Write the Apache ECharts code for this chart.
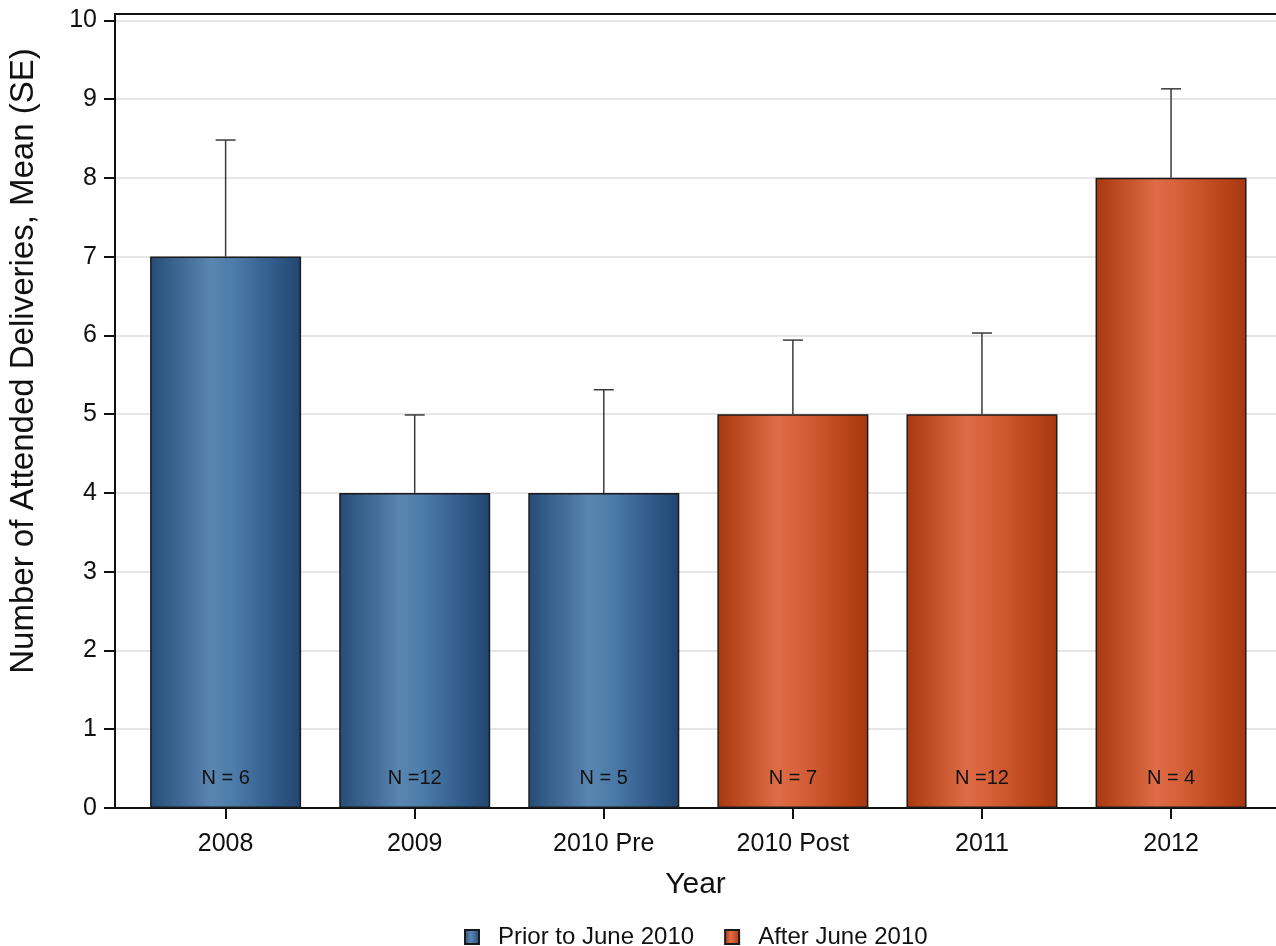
<!DOCTYPE html>
<html>
<head>
<meta charset="utf-8">
<script src="https://cdn.jsdelivr.net/npm/echarts@6/dist/echarts.min.js"></script>
<style>html,body{margin:0;padding:0;background:#fff;}#c{width:1276px;height:946px;}</style>
</head>
<body>
<div id="c"></div>
<script>
var categories = ['2008', '2009', '2010 Pre', '2010 Post', '2011', '2012'];
var means = [7, 4, 4, 5, 5, 8];
var upperSE = [8.48, 4.99, 5.31, 5.94, 6.03, 9.13];
var nLabels = ['N = 6', 'N =12', 'N = 5', 'N = 7', 'N =12', 'N = 4'];
var groups = ['prior', 'prior', 'prior', 'after', 'after', 'after'];
var yTicks = [0, 1, 2, 3, 4, 5, 6, 7, 8, 9, 10];
var seriesNames = ['Prior to June 2010', 'After June 2010'];

var FONT = '"Liberation Sans", Arial, Helvetica, sans-serif';
var blueGrad = new echarts.graphic.LinearGradient(0, 0, 1, 0, [
  {offset: 0, color: '#254c77'}, {offset: 0.4, color: '#5985b1'},
  {offset: 0.55, color: '#4d7caa'}, {offset: 0.85, color: '#2d5787'}, {offset: 1, color: '#22466d'}]);
var orangeGrad = new echarts.graphic.LinearGradient(0, 0, 1, 0, [
  {offset: 0, color: '#a9380f'}, {offset: 0.4, color: '#de6c46'},
  {offset: 0.55, color: '#d6603a'}, {offset: 0.85, color: '#ba4418'}, {offset: 1, color: '#a43712'}]);

function barData(g) {
  return categories.map(function (c, i) {
    return groups[i] === g ? [i, means[i], nLabels[i]] : [i, '-', ''];
  });
}
var xIdx = categories.map(function (c, i) { return i; });
var errData = categories.map(function (c, i) { return [i, means[i], upperSE[i]]; });

var barLabel = {
  show: true, position: 'insideBottom', distance: 20,
  formatter: function (p) { return p.data[2]; },
  fontFamily: FONT, fontSize: 20, color: '#111'
};

var chart = echarts.init(document.getElementById('c'), null, {renderer: 'canvas'});
chart.setOption({
  backgroundColor: '#ffffff',
  animation: false,
  grid: {left: 115, right: 0, top: 14, bottom: 138, containLabel: false},
  legend: {
    data: seriesNames, left: 459, top: 920, itemWidth: 14, itemHeight: 14, itemGap: 30, icon: 'rect',
    textStyle: {fontFamily: FONT, fontSize: 24, color: '#111', padding: [0, 0, 0, 14]}
  },
  graphic: [{
    type: 'text', x: 24, y: 361, rotation: Math.PI / 2,
    style: {text: 'Number of Attended Deliveries, Mean (SE)', font: '33px ' + FONT,
      fill: '#111', textAlign: 'center', textVerticalAlign: 'middle'}
  }],
  xAxis: [{
    type: 'value', min: -0.585, max: 5.555, position: 'bottom',
    name: 'Year', nameLocation: 'middle', nameGap: 62,
    nameTextStyle: {fontFamily: FONT, fontSize: 30, color: '#111'},
    axisLine: {show: true, onZero: false, lineStyle: {color: '#111', width: 2}},
    axisTick: {show: true, customValues: xIdx, length: 11, lineStyle: {color: '#111', width: 2}},
    axisLabel: {show: true, customValues: xIdx, margin: 24, fontFamily: FONT, fontSize: 25, color: '#111',
      formatter: function (v) { return categories[Math.round(v)]; }},
    splitLine: {show: false}
  }, {
    type: 'value', min: -0.585, max: 5.555, position: 'top',
    axisLine: {show: true, onZero: false, lineStyle: {color: '#111', width: 2}},
    axisTick: {show: false}, axisLabel: {show: false}, splitLine: {show: false}
  }],
  yAxis: {
    type: 'value', min: 0, max: 10.08, position: 'left',
    axisLine: {show: true, onZero: false, lineStyle: {color: '#111', width: 2}},
    axisTick: {show: true, customValues: yTicks, length: 11, lineStyle: {color: '#111', width: 2}},
    axisLabel: {show: true, customValues: yTicks, margin: 18, fontFamily: FONT, fontSize: 25, color: '#111'},
    splitLine: {show: true, lineStyle: {color: '#dedede', width: 1.5}}
  },
  series: [{
    name: seriesNames[0], type: 'bar', barWidth: 151, barGap: '-100%',
    data: barData('prior'),
    itemStyle: {color: blueGrad, borderColor: '#1a1a1a', borderWidth: 1.5},
    label: barLabel, z: 2
  }, {
    name: seriesNames[1], type: 'bar', barWidth: 151, barGap: '-100%',
    data: barData('after'),
    itemStyle: {color: orangeGrad, borderColor: '#1a1a1a', borderWidth: 1.5},
    label: barLabel, z: 2
  }, {
    type: 'custom', z: 5, data: errData,
    renderItem: function (params, api) {
      var x = api.value(0);
      var base = api.coord([x, api.value(1)]);
      var top = api.coord([x, api.value(2)]);
      var style = {stroke: '#3a3a3a', lineWidth: 1.5};
      return {type: 'group', children: [
        {type: 'line', shape: {x1: base[0], y1: base[1], x2: top[0], y2: top[1]}, style: style},
        {type: 'line', shape: {x1: top[0] - 10, y1: top[1], x2: top[0] + 10, y2: top[1]}, style: style}
      ]};
    }
  }]
});
</script>
</body>
</html>
